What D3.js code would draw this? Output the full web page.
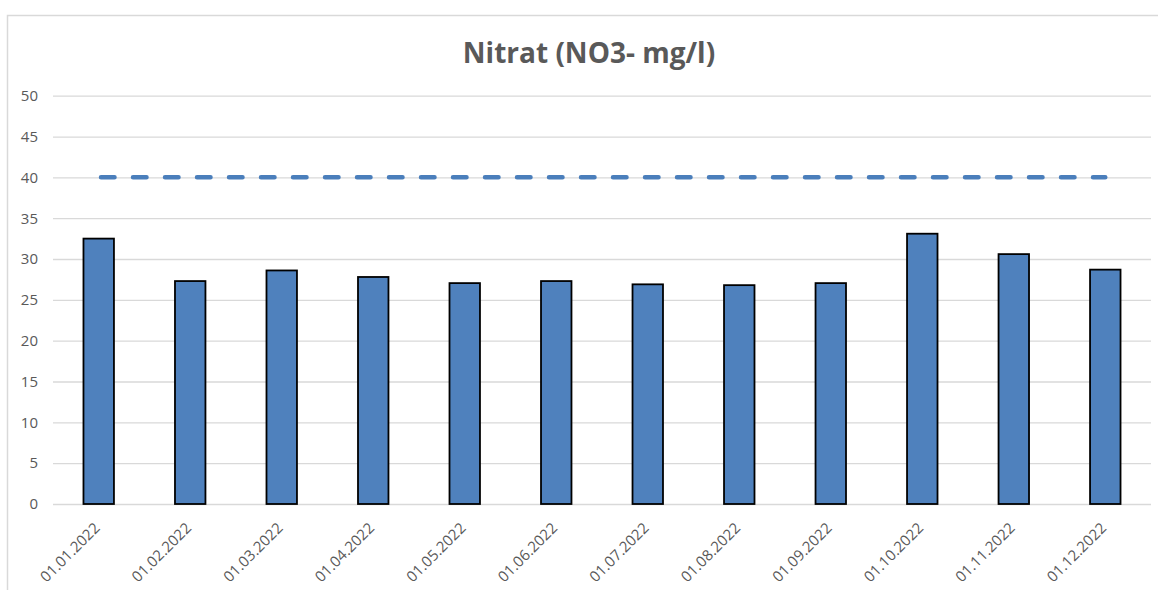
<!DOCTYPE html>
<html><head><meta charset="utf-8">
<script src="https://cdn.jsdelivr.net/npm/d3@7"></script>
<style>body{margin:0;background:#fff;} svg{display:block;}</style>
</head><body>
<svg id="chart" width="1158" height="590"></svg>
<script>
const categories = ["01.01.2022","01.02.2022","01.03.2022","01.04.2022","01.05.2022","01.06.2022","01.07.2022","01.08.2022","01.09.2022","01.10.2022","01.11.2022","01.12.2022"];
const nitrat = [32.5, 27.3, 28.6, 27.8, 27.05, 27.3, 26.9, 26.8, 27.05, 33.1, 30.6, 28.7];
const limit = [40,40,40,40,40,40,40,40,40,40,40,40];
const yTicks = [0,5,10,15,20,25,30,35,40,45,50];
const title = "Nitrat (NO3- mg/l)";

const svg = d3.select("#chart");
const m = {left:53, right:1151, top:95.7, bottom:504};
const font = "'Open Sans', 'Noto Sans', sans-serif";

svg.append("rect").attr("x",7.5).attr("y",15.5).attr("width",1160).attr("height",600)
  .attr("fill","#fff").attr("stroke","#d9d9d9").attr("stroke-width",1.5);

const x = d3.scaleBand().domain(categories).range([m.left,m.right]).paddingInner(0.667).paddingOuter(0.333);
const y = d3.scaleLinear().domain([0,50]).range([m.bottom,m.top]);

// grid
const yAxis = svg.append("g").attr("transform",`translate(${m.left},0)`)
  .call(d3.axisLeft(y).tickValues(yTicks).tickSize(-(m.right-m.left)).tickPadding(15));
yAxis.select(".domain").remove();
yAxis.selectAll(".tick line").attr("stroke","#d9d9d9").attr("stroke-width",1.3);
yAxis.selectAll(".tick text").attr("fill","#595959").attr("font-size","15px").attr("font-family",font);

// bars
svg.append("g").selectAll("rect").data(nitrat).join("rect")
  .attr("x",(d,i)=>x(categories[i]))
  .attr("y",d=>y(d))
  .attr("width",x.bandwidth())
  .attr("height",d=>y(0)-y(d))
  .attr("fill","#4f81bd").attr("stroke","#000").attr("stroke-width",1.8);

// limit line
const line = d3.line().x((d,i)=>x(categories[i])+x.bandwidth()/2).y(d=>y(d));
svg.append("path").datum(limit).attr("d",line)
  .attr("fill","none").attr("stroke","#4a7ebb").attr("stroke-width",4.5)
  .attr("stroke-linecap","round").attr("stroke-dasharray","13.5,18.5")
  .attr("stroke-dashoffset",-2.3);

// x labels
svg.append("g").selectAll("text").data(categories).join("text")
  .attr("transform",d=>`translate(${x(d)+x.bandwidth()/2+2},${m.bottom+25}) rotate(-45)`)
  .attr("text-anchor","end")
  .attr("fill","#595959").attr("font-size","15px").attr("font-family",font)
  .text(d=>d);

// title
svg.append("text").attr("x",589).attr("y",62.5).attr("text-anchor","middle")
  .attr("fill","#595959").attr("font-size","28px").attr("font-weight","bold").attr("font-family",font)
  .text(title);
</script>
</body></html>
